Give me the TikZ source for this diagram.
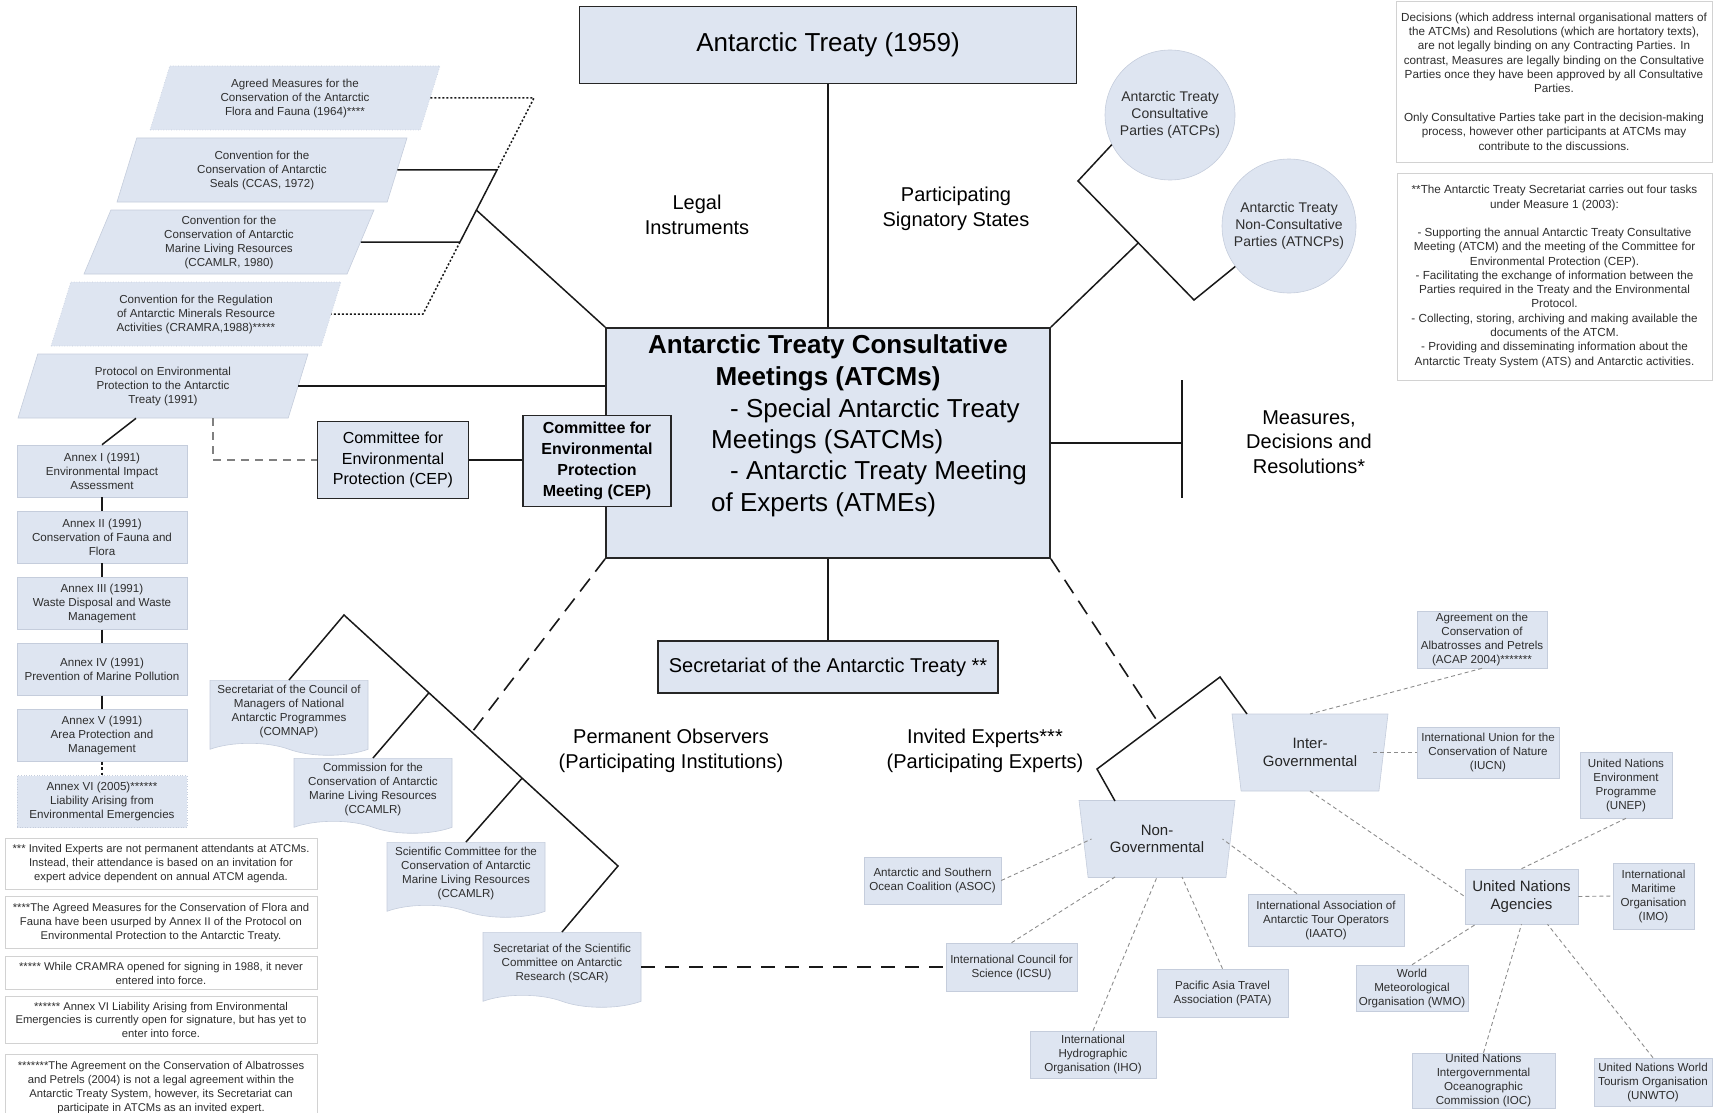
\documentclass[tikz,border=0pt]{standalone}
\usepackage{fontspec}
\setmainfont{Liberation Sans}
\usetikzlibrary{positioning, calc, shapes.geometric, shapes.symbols}

\definecolor{boxfill}{HTML}{DEE5F1}
\definecolor{boxedge}{HTML}{C5CDDC}
\definecolor{noteedge}{HTML}{D2D2D2}
\definecolor{txtgray}{HTML}{2E2E2E}

\newcommand{\txttreaty}{\fontsize{26}{31}\selectfont}
\newcommand{\txtatcm}{\fontsize{26}{31.4}\selectfont}
\newcommand{\txtlabel}{\fontsize{20}{24.5}\selectfont}
\newcommand{\txtcep}{\fontsize{16}{20.8}\selectfont}
\newcommand{\txtgroup}{\fontsize{15}{17.5}\selectfont}
\newcommand{\txtcirc}{\fontsize{14}{17}\selectfont}
\newcommand{\txtsmall}{\fontsize{11.6}{14}\selectfont}
\newcommand{\txtnote}{\fontsize{11.7}{14.3}\selectfont}
\newcommand{\txtfoot}{\fontsize{11.25}{13.8}\selectfont}

\begin{document}
\begin{tikzpicture}[
    x=1pt, y=-1pt,
    node distance = 13.5pt and 13.5pt,
    mainbox/.style = {rectangle, draw=black!85, line width=1.8pt, fill=boxfill, inner sep=0pt},
    legal/.style = {trapezium, trapezium left angle=63, trapezium right angle=117,
      trapezium stretches body, minimum width=290pt, minimum height=64pt, inner sep=0pt,
      fill=boxfill, draw=boxedge, line width=0.6pt, align=center, text=txtgray, font=\txtsmall},
    annex/.style = {rectangle, minimum width=170pt, minimum height=52pt, inner sep=0pt,
      fill=boxfill, draw=boxedge, line width=0.6pt, align=center, text=txtgray, font=\txtsmall},
    doc/.style = {tape, tape bend top=none, tape bend bottom=out and in, tape bend height=12pt,
      minimum width=158pt, minimum height=75pt, inner sep=0pt, anchor=north,
      fill=boxfill, draw=boxedge, line width=0.6pt, align=center, text=txtgray, font=\txtsmall},
    org/.style = {rectangle, inner sep=0pt, fill=boxfill, draw=boxedge, line width=0.6pt,
      align=center, text=txtgray, font=\txtsmall},
    group/.style = {trapezium, trapezium angle=72, shape border rotate=180, trapezium stretches body,
      minimum width=156pt, minimum height=77pt, inner sep=0pt,
      fill=boxfill, draw=boxedge, line width=0.6pt, align=center, text=black!85, font=\txtgroup},
    party/.style = {circle, inner sep=0pt, fill=boxfill, draw=boxedge, line width=0.6pt,
      align=center, text=txtgray, font=\txtcirc},
    note/.style = {rectangle, inner sep=0pt, fill=white, draw=noteedge, line width=0.8pt,
      align=center, text=txtgray},
    lbl/.style = {align=center, font=\txtlabel},
    conn/.style = {black!90, line width=1.5pt},
    dconn/.style = {black!90, line width=1.6pt, dash pattern=on 16pt off 9pt},
    pconn/.style = {black!90, line width=1.5pt, dash pattern=on 2pt off 2pt},
    gconn/.style = {black!45, line width=0.9pt, dash pattern=on 4pt off 3pt},
    cconn/.style = {black!50, line width=1.3pt, dash pattern=on 8pt off 6pt},
    font=\txtsmall
    ]
  \useasboundingbox (0,0) rectangle (1713,1113);

  % treaty, meetings, secretariat
  \node[mainbox, minimum width=497pt, minimum height=77pt, font=\txttreaty] (treaty) at (828,45) {Antarctic Treaty (1959)};
  \node[mainbox, minimum width=444pt, minimum height=230pt] (atcm) at (828,443) {};
  \node[font=\txtatcm\bfseries, align=center] (atcmhead) at (828,363) {Antarctic Treaty Consultative\\Meetings (ATCMs)};
  \node[font=\txtatcm, align=left, anchor=west, inner sep=0pt] (atcmsub) at (711,457.5)
    {\hspace*{19pt}- Special Antarctic Treaty\\Meetings (SATCMs)\\\hspace*{19pt}- Antarctic Treaty Meeting\\of Experts (ATMEs)};
  \node[mainbox, minimum width=151pt, minimum height=77pt, font=\txtcep, align=center] (cep) at (393,460) {Committee for\\Environmental\\Protection (CEP)};
  \node[mainbox, minimum width=148pt, minimum height=91pt, font=\txtcep\bfseries, align=center] (cepm) at (597,461) {Committee for\\Environmental\\Protection\\Meeting (CEP)};
  \node[mainbox, minimum width=340pt, minimum height=52pt, font=\txtlabel] (secr) at (828,667) {Secretariat of the Antarctic Treaty **};

  \node[lbl] (legallbl) at (697,215) {Legal\\Instruments};
  \node[lbl] (partlbl) at (956,209) {Participating\\Signatory States};
  \node[lbl] (measlbl) at (1309,442) {Measures,\\Decisions and\\Resolutions*};
  \node[lbl] (obslbl) at (671,751) {Permanent Observers\\(Participating Institutions)};
  \node[lbl] (invlbl) at (985,751) {Invited Experts***\\(Participating Experts)};

  % legal instruments
  \node[legal, dotted] (agreed) at (295,98) {Agreed Measures for the\\Conservation of the Antarctic\\Flora and Fauna (1964)****};
  \node[legal] (ccas) at (262,170) {Convention for the\\Conservation of Antarctic\\Seals (CCAS, 1972)};
  \node[legal] (ccamlr) at (229,242) {Convention for the\\Conservation of Antarctic\\Marine Living Resources\\(CCAMLR, 1980)};
  \node[legal, dotted] (cramra) at (196,314) {Convention for the Regulation\\of Antarctic Minerals Resource\\Activities (CRAMRA,1988)*****};
  \node[legal] (protocol) at (163,386) {Protocol on Environmental\\Protection to the Antarctic\\Treaty (1991)};

  \node[annex] (annex1) at (102,471) {Annex I (1991)\\Environmental Impact\\Assessment};
  \node[annex] (annex2) [below=of annex1] {Annex II (1991)\\Conservation of Fauna and\\Flora};
  \node[annex] (annex3) [below=of annex2] {Annex III (1991)\\Waste Disposal and Waste\\Management};
  \node[annex] (annex4) [below=of annex3] {Annex IV (1991)\\Prevention of Marine Pollution};
  \node[annex] (annex5) [below=of annex4] {Annex V (1991)\\Area Protection and\\Management};
  \node[annex, dotted] (annex6) [below=of annex5] {Annex VI (2005)******\\Liability Arising from\\Environmental Emergencies};

  % footnotes
  \node[note, font=\txtfoot, minimum width=312pt, minimum height=51pt] (fn1) at (161,863.5)
    {*** Invited Experts are not permanent attendants at ATCMs.\\Instead, their attendance is based on an invitation for\\expert advice dependent on annual ATCM agenda.};
  \node[note, font=\txtfoot, minimum width=312pt, minimum height=52pt] (fn2) [below=7pt of fn1]
    {****The Agreed Measures for the Conservation of Flora and\\Fauna have been usurped by Annex II of the Protocol on\\Environmental Protection to the Antarctic Treaty.};
  \node[note, font=\txtfoot, minimum width=312pt, minimum height=33pt] (fn3) [below=7pt of fn2]
    {***** While CRAMRA opened for signing in 1988, it never\\entered into force.};
  \node[note, font=\txtfoot, minimum width=312pt, minimum height=47pt] (fn4) [below=6pt of fn3]
    {****** Annex VI Liability Arising from Environmental\\Emergencies is currently open for signature, but has yet to\\enter into force.};
  \node[note, font=\txtfoot, minimum width=312pt, minimum height=67pt] (fn5) [below=10pt of fn4]
    {*******The Agreement on the Conservation of Albatrosses\\and Petrels (2004) is not a legal agreement within the\\Antarctic Treaty System, however, its Secretariat can\\participate in ATCMs as an invited expert.};

  \node[note, font=\txtnote, minimum width=316pt, minimum height=161pt] (note1) at (1554,81.5)
    {Decisions (which address internal organisational matters of\\the ATCMs) and Resolutions (which are hortatory texts),\\are not legally binding on any Contracting Parties. In\\contrast, Measures are legally binding on the Consultative\\Parties once they have been approved by all Consultative\\Parties.\\[14.3pt]Only Consultative Parties take part in the decision-making\\process, however other participants at ATCMs may\\contribute to the discussions.};
  \node[note, font=\txtnote, minimum width=315pt, minimum height=207pt] (note2) at (1554.5,276.5)
    {**The Antarctic Treaty Secretariat carries out four tasks\\under Measure 1 (2003):\\[14pt]- Supporting the annual Antarctic Treaty Consultative\\Meeting (ATCM) and the meeting of the Committee for\\Environmental Protection (CEP).\\- Facilitating the exchange of information between the\\Parties required in the Treaty and the Environmental\\Protocol.\\- Collecting, storing, archiving and making available the\\documents of the ATCM.\\- Providing and disseminating information about the\\Antarctic Treaty System (ATS) and Antarctic activities.};

  % signatory states
  \node[party, minimum size=130pt] (atcp) at (1170,115) {Antarctic Treaty\\Consultative\\Parties (ATCPs)};
  \node[party, minimum size=134pt] (atncp) at (1289,226) {Antarctic Treaty\\Non-Consultative\\Parties (ATNCPs)};

  % observers
  \node[doc] (comnap) at (289,680) {Secretariat of the Council of\\Managers of National\\Antarctic Programmes\\(COMNAP)};
  \node[doc] (ccamlrcom) at (373,758) {Commission for the\\Conservation of Antarctic\\Marine Living Resources\\(CCAMLR)};
  \node[doc] (sccamlr) at (466,842) {Scientific Committee for the\\Conservation of Antarctic\\Marine Living Resources\\(CCAMLR)};
  \node[doc] (scar) at (562,932) {Secretariat of the Scientific\\Committee on Antarctic\\Research (SCAR)};

  % invited experts
  \node[group] (intergov) at (1310,752.5) {Inter-\\Governmental};
  \node[group] (nongov) at (1157,839) {Non-\\Governmental};
  \node[org, minimum width=130pt, minimum height=57pt] (acap) at (1482,639.5) {Agreement on the\\Conservation of\\Albatrosses and Petrels\\(ACAP 2004)*******};
  \node[org, minimum width=142pt, minimum height=51pt] (iucn) at (1488,752.5) {International Union for the\\Conservation of Nature\\(IUCN)};
  \node[org, minimum width=113pt, minimum height=55pt, font=\txtgroup, text=black!85] (unag) at (1521.5,896.5) {United Nations\\Agencies};
  \node[org, minimum width=92pt, minimum height=66pt] (unep) at (1626,785) {United Nations\\Environment\\Programme\\(UNEP)};
  \node[org, minimum width=81pt, minimum height=66pt] (imo) at (1653.5,896) {International\\Maritime\\Organisation\\(IMO)};
  \node[org, minimum width=112pt, minimum height=46pt] (wmo) at (1412,988) {World\\Meteorological\\Organisation (WMO)};
  \node[org, minimum width=143pt, minimum height=55pt] (ioc) at (1483.5,1080.5) {United Nations\\Intergovernmental\\Oceanographic\\Commission (IOC)};
  \node[org, minimum width=118pt, minimum height=48pt] (unwto) at (1653,1082) {United Nations World\\Tourism Organisation\\(UNWTO)};
  \node[org, minimum width=137pt, minimum height=47pt] (asoc) at (932.5,880.5) {Antarctic and Southern\\Ocean Coalition (ASOC)};
  \node[org, minimum width=131pt, minimum height=48pt] (icsu) at (1011.5,967) {International Council for\\Science (ICSU)};
  \node[org, minimum width=126pt, minimum height=47pt] (iho) at (1093,1054.5) {International\\Hydrographic\\Organisation (IHO)};
  \node[org, minimum width=131pt, minimum height=48pt] (pata) at (1222.5,993) {Pacific Asia Travel\\Association (PATA)};
  \node[org, minimum width=156pt, minimum height=52pt] (iaato) at (1326,920) {International Association of\\Antarctic Tour Operators\\(IAATO)};

  \coordinate (legtop) at (534,98);
  \coordinate (legbot) at (423,314);
  \coordinate (legA) at ($(legtop)!0.333!(legbot)$);
  \coordinate (legB) at ($(legtop)!0.667!(legbot)$);
  \coordinate (legJ) at ($(legtop)!0.519!(legbot)$);
  \coordinate (measbar) at ($(atcm.east)+(131,0)$);
  \coordinate (vtop) at (1078,181);
  \coordinate (vbot) at (1194,300);
  \coordinate (obsapex) at (344,615);
  \coordinate (obsright) at (618,866);
  \coordinate (invapex) at (1220,677);
  \coordinate (invleft) at (1097,769);

  \draw[conn] (treaty) -- (atcm);
  \draw[conn] (atcm) -- (secr);
  \draw[conn] (cep.east) -- (cep.east -| cepm.west);
  \draw[conn] (protocol.east) -- (protocol.east -| atcm.west);
  \draw[conn] ($(protocol.south)+(-27,0)$) -- (annex1.north);
  \draw[cconn] ($(protocol.south)+(50,0)$) |- (cep.west);

  \draw[pconn] (agreed.east) -- (legtop) -- (legA);
  \draw[conn] (ccas.east) -- (legA) -- (legB);
  \draw[conn] (ccamlr.east) -- (legB);
  \draw[pconn] (legB) -- (legbot) -- (cramra.east);
  \draw[conn] (legJ) -- (atcm.north west);

  \draw[conn] (annex1) -- (annex2);
  \draw[conn] (annex2) -- (annex3);
  \draw[conn] (annex3) -- (annex4);
  \draw[conn] (annex4) -- (annex5);
  \draw[conn, dash pattern=on 3pt off 2.5pt] (annex5) -- (annex6);

  \draw[conn] (atcm.east) -- (measbar);
  \draw[conn] ($(measbar)+(0,-63)$) -- ($(measbar)+(0,55)$);

  \draw[conn] (atcp.207) -- (vtop) -- (vbot) -- (atncp.217);
  \draw[conn] (atcm.north east) -- ($(vtop)!0.52!(vbot)$);

  \draw[conn] (comnap.north) -- (obsapex) -- (obsright) -- (scar.north);
  \draw[conn] ($(obsapex)!0.31!(obsright)$) -- (ccamlrcom.north);
  \draw[conn] ($(obsapex)!0.65!(obsright)$) -- (sccamlr.north);
  \draw[dconn] (atcm.south west) -- ($(obsapex)!0.467!(obsright)$);
  \draw[dconn, dash pattern=on 14pt off 10pt, line width=1.4pt] (scar.east |- icsu.west) -- (icsu.west);

  \draw[conn] ($(nongov)+(-42,-38)$) -- (invleft) -- (invapex) -- ($(intergov)+(-63,-38.5)$);
  \draw[dconn] (atcm.south east) -- ($(invapex)!0.5!(invleft)$);

  \draw[gconn] (acap.south) -- ($(intergov)+(0,-38.5)$);
  \draw[gconn] ($(intergov)+(63,0)$) -- (iucn.west);
  \draw[gconn] ($(intergov)+(0,38.5)$) -- (unag.west);
  \draw[gconn] (unep.south) -- (unag.north);
  \draw[gconn] (unag.east) -- (imo.west);
  \draw[gconn] (wmo.north) -- ($(unag.south west)+(11,0)$);
  \draw[gconn] (ioc.north) -- (unag.south);
  \draw[gconn] (unwto.north) -- ($(unag.south)+(26,0)$);

  \draw[gconn] (asoc.east) -- ($(nongov)+(-65.5,0)$);
  \draw[gconn] (icsu.north) -- ($(nongov)+(-42,38)$);
  \draw[gconn] (iho.north) -- ($(nongov)+(0,38)$);
  \draw[gconn] (pata.north) -- ($(nongov)+(25,38)$);
  \draw[gconn] ($(iaato.north)+(-29,0)$) -- ($(nongov)+(65.5,0)$);
\end{tikzpicture}
\end{document}
